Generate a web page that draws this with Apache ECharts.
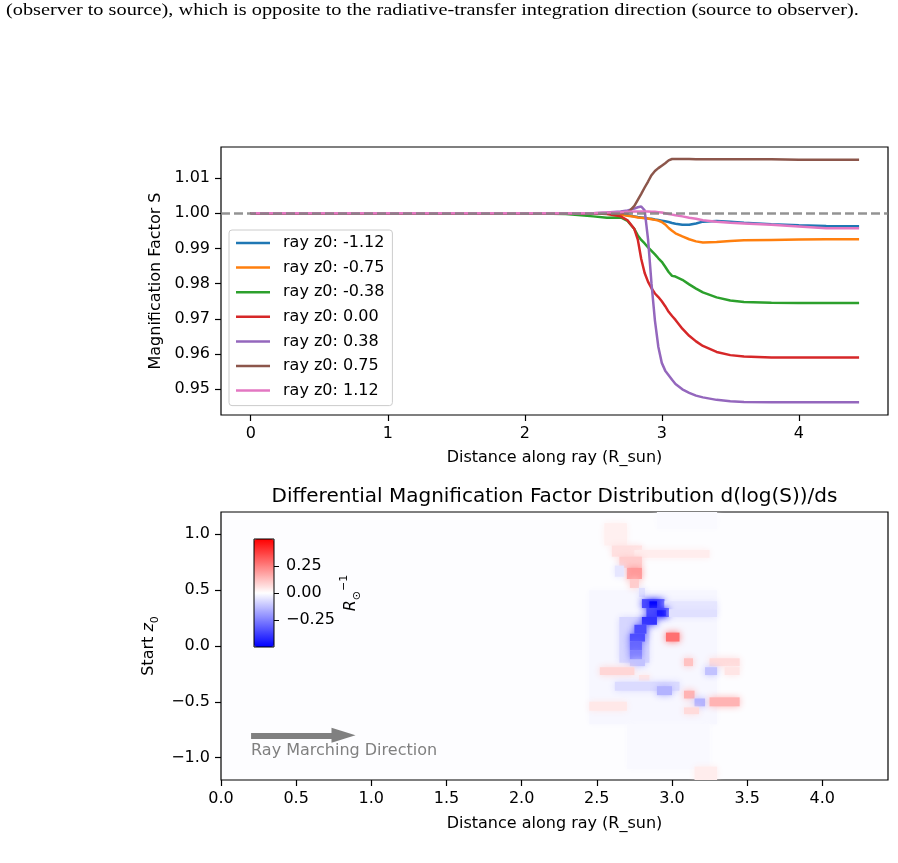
<!DOCTYPE html>
<html>
<head>
<meta charset="utf-8">
<script src="https://cdn.jsdelivr.net/npm/echarts@6/dist/echarts.min.js"></script>
<style>
  html, body { margin: 0; padding: 0; background: #fff; }
  #main { width: 898px; height: 863px; }
</style>
</head>
<body>
<div id="main"></div>
<script>
// distance along ray (R_sun), shared by all rays
var distance = [0, 0.5, 1, 1.5, 2, 2.3, 2.5, 2.6, 2.7, 2.75, 2.8, 2.825, 2.85, 2.875, 2.9, 2.925, 2.95, 2.975,
  3.0, 3.025, 3.05, 3.075, 3.1, 3.15, 3.2, 3.25, 3.3, 3.4, 3.5, 3.6, 3.8, 4.0, 4.2, 4.44];

var rayNames = ['ray z0: -1.12', 'ray z0: -0.75', 'ray z0: -0.38', 'ray z0: 0.00', 'ray z0: 0.38', 'ray z0: 0.75', 'ray z0: 1.12'];
var rayColors = ['#1f77b4', '#ff7f0e', '#2ca02c', '#d62728', '#9467bd', '#8c564b', '#e377c2'];

var sRayM112 = [1, 1, 1, 1, 1, 1, 1, 1, 0.9997, 0.9994, 0.9991, 0.9989, 0.9988, 0.9987, 0.9985, 0.9984, 0.9982, 0.9981,
  0.9979, 0.9977, 0.9975, 0.9972, 0.9970, 0.9967, 0.9967, 0.9971, 0.9976, 0.9978, 0.9976, 0.9973, 0.9969, 0.9966, 0.9964, 0.9963];
var sRayM075 = [1, 1, 1, 1, 1, 1, 1, 1, 0.9996, 0.9993, 0.9990, 0.9988, 0.9987, 0.9986, 0.9985, 0.9983, 0.9981, 0.9979,
  0.9975, 0.9968, 0.9958, 0.9950, 0.9943, 0.9934, 0.9926, 0.9920, 0.9917, 0.9918, 0.9921, 0.9923, 0.9924, 0.9925, 0.9926, 0.9926];
var sRayM038 = [1, 1, 1, 1, 1, 0.9998, 0.9991, 0.9987, 0.9988, 0.9978, 0.9955, 0.9937, 0.9924, 0.9914, 0.9903, 0.9893, 0.9883, 0.9872,
  0.9862, 0.9848, 0.9833, 0.9822, 0.9820, 0.9811, 0.9798, 0.9786, 0.9775, 0.9761, 0.9752, 0.9748, 0.9746, 0.9745, 0.9745, 0.9745];
var sRay000 = [1, 1, 1, 1, 1, 1, 1, 0.9998, 0.9991, 0.9980, 0.9955, 0.9925, 0.9870, 0.9830, 0.9805, 0.9787, 0.9772, 0.9762,
  0.9750, 0.9736, 0.9720, 0.9708, 0.9697, 0.9672, 0.9652, 0.9636, 0.9623, 0.9606, 0.9597, 0.9593, 0.9590, 0.9590, 0.9590, 0.9590];
var sRayP038 = [1, 1, 1, 1, 1, 1, 1, 1.0002, 1.0005, 1.0008, 1.0013, 1.0017, 1.0019, 1.0008, 0.9925, 0.9800, 0.9695, 0.9620,
  0.9575, 0.9553, 0.9540, 0.9527, 0.9515, 0.9500, 0.9490, 0.9482, 0.9477, 0.9470, 0.9466, 0.9464, 0.9463, 0.9463, 0.9463, 0.9463];
var sRayP075 = [1, 1, 1, 1, 1, 1, 1, 1, 1, 1.0000, 1.0021, 1.0038, 1.0055, 1.0073, 1.0090, 1.0108, 1.0120, 1.0128,
  1.0135, 1.0142, 1.0150, 1.0154, 1.0154, 1.0154, 1.0154, 1.0153, 1.0153, 1.0153, 1.0153, 1.0153, 1.0153, 1.0152, 1.0152, 1.0152];
var sRayP112 = [1, 1, 1, 1, 1, 1, 1, 1.0002, 1.0003, 1.0004, 1.0005, 1.0005, 1.0005, 1.0005, 1.0005, 1.0004, 1.0004, 1.0003,
  1.0002, 1.0000, 0.9998, 0.9996, 0.9994, 0.9991, 0.9987, 0.9984, 0.9980, 0.9976, 0.9973, 0.9971, 0.9967, 0.9962, 0.9957, 0.9957];
var raySeries = [sRayM112, sRayM075, sRayM038, sRay000, sRayP038, sRayP075, sRayP112];

// d(log S)/ds read as blocks: [x0, x1, zTop, zBottom, value]
var heatBlocks = [
  [2.45, 3.30, 0.50, -0.70, -0.015],
  [2.70, 3.25, -0.70, -1.10, -0.012],
  [2.90, 3.30, 1.20, 1.05, -0.01],
  [2.55, 2.70, 1.10, 0.90, 0.03],
  [2.60, 2.80, 0.90, 0.80, 0.06],
  [2.75, 3.25, 0.86, 0.79, 0.035],
  [2.65, 2.80, 0.80, 0.70, 0.10],
  [2.70, 2.80, 0.70, 0.60, 0.20],
  [2.72, 2.78, 0.60, 0.52, 0.10],
  [2.62, 2.68, 0.72, 0.62, -0.05],
  [2.78, 2.82, 0.52, 0.44, -0.06],
  [2.65, 2.85, 0.26, -0.15, -0.08],
  [2.80, 2.95, 0.42, 0.34, -0.35],
  [2.85, 2.90, 0.40, 0.34, -0.50],
  [2.95, 3.30, 0.40, 0.33, -0.05],
  [2.83, 2.98, 0.34, 0.26, -0.35],
  [2.90, 2.96, 0.32, 0.27, -0.45],
  [2.98, 3.30, 0.33, 0.26, -0.06],
  [2.80, 2.90, 0.26, 0.19, -0.40],
  [2.75, 2.83, 0.19, 0.11, -0.35],
  [2.72, 2.82, 0.11, 0.04, -0.35],
  [2.96, 3.05, 0.12, 0.04, 0.28],
  [2.72, 2.80, 0.04, -0.04, -0.30],
  [2.72, 2.80, -0.04, -0.12, -0.25],
  [2.72, 2.82, -0.12, -0.18, -0.12],
  [3.08, 3.14, -0.11, -0.18, 0.12],
  [3.25, 3.45, -0.11, -0.18, 0.07],
  [2.52, 2.75, -0.19, -0.26, 0.08],
  [3.22, 3.30, -0.19, -0.26, -0.12],
  [3.35, 3.45, -0.19, -0.26, 0.05],
  [2.78, 2.85, -0.26, -0.31, 0.05],
  [2.62, 3.05, -0.32, -0.40, -0.07],
  [2.90, 3.00, -0.36, -0.44, -0.15],
  [3.08, 3.15, -0.40, -0.47, 0.15],
  [3.15, 3.22, -0.47, -0.54, -0.15],
  [3.25, 3.45, -0.46, -0.54, 0.15],
  [2.45, 2.70, -0.50, -0.58, 0.045],
  [3.08, 3.18, -0.55, -0.61, 0.07],
  [3.15, 3.30, -1.08, -1.20, 0.035]
];

var topXTicks = [0, 1, 2, 3, 4];
var topYTicks = [0.95, 0.96, 0.97, 0.98, 0.99, 1.00, 1.01];
var heatXTicks = [0, 0.5, 1.0, 1.5, 2.0, 2.5, 3.0, 3.5, 4.0];
var heatYTicks = [-1.0, -0.5, 0, 0.5, 1.0];
var cbarTicks = [-0.25, 0, 0.25];

var captionText = '(observer to source), which is opposite to the radiative-transfer integration direction (source to observer).';

function fmt(v, d) {
  var s = Math.abs(v).toFixed(d);
  return v < 0 ? '\u2212' + s : s;
}

var chartDom = document.getElementById('main');
var myChart = echarts.init(chartDom);

var tickStyle = { show: true, inside: false, length: 6, lineStyle: { color: '#000', width: 1.2 } };
var labelStyle = { color: '#000', fontSize: 16, margin: 11 };
var nameStyle = { color: '#000', fontSize: 16 };
var noLine = { show: false, onZero: false };

var series = raySeries.map(function (arr, i) {
  return {
    name: rayNames[i],
    type: 'line',
    xAxisIndex: 0,
    yAxisIndex: 0,
    symbol: 'none',
    showSymbol: false,
    color: rayColors[i],
    lineStyle: { width: 2.5, color: rayColors[i] },
    data: distance.map(function (d, j) { return [d, arr[j]]; }),
    z: 2 + i * 0.01
  };
});
// reference line at S = 1
series[6].markLine = {
  silent: true,
  symbol: 'none',
  label: { show: false },
  lineStyle: { color: 'rgba(128,128,128,0.85)', width: 2.5, type: [9, 4] },
  data: [{ yAxis: 1 }],
  z: 10
};

series.push({
  type: 'custom',
  xAxisIndex: 1,
  yAxisIndex: 1,
  clip: true,
  silent: true,
  encode: { x: [0, 1], y: [2, 3] },
  data: heatBlocks,
  renderItem: function (params, api) {
    var p0 = api.coord([api.value(0), api.value(2)]);
    var p1 = api.coord([api.value(1), api.value(3)]);
    var c = api.visual('color');
    return {
      type: 'rect',
      shape: { x: p0[0], y: p0[1], width: p1[0] - p0[0], height: p1[1] - p0[1] },
      style: { fill: c, shadowBlur: 7, shadowColor: c }
    };
  }
});

series.push({
  type: 'line',
  xAxisIndex: 1,
  yAxisIndex: 1,
  data: [],
  silent: true,
  markLine: {
    silent: true,
    symbol: ['none', 'triangle'],
    symbolSize: [15, 24],
    label: { show: false },
    lineStyle: { color: '#808080', width: 6, type: 'solid' },
    data: [[{ coord: [0.2, -0.8] }, { coord: [0.815, -0.8] }]],
    z: 10
  },
  markPoint: {
    silent: true,
    symbol: 'circle',
    symbolSize: 0,
    label: { show: true, position: 'right', distance: 0, color: '#808080', fontSize: 16, formatter: 'Ray Marching Direction' },
    data: [{ coord: [0.2, -0.94] }]
  }
});

var option = {
  animation: false,
  backgroundColor: '#fff',
  textStyle: { fontFamily: 'DejaVu Sans' },
  title: {
    text: 'Differential Magnification Factor Distribution d(log(S))/ds',
    left: 554.5,
    top: 487,
    textAlign: 'center',
    padding: 0,
    textStyle: { fontSize: 20, fontWeight: 'normal', color: '#000', fontFamily: 'DejaVu Sans' }
  },
  graphic: [{
    type: 'text',
    left: 6,
    top: 1,
    scaleX: 1.16,
    style: { text: captionText, font: '17.5px "Liberation Serif"', fill: '#000' }
  }],
  legend: {
    data: rayNames,
    orient: 'vertical',
    left: 229,
    top: 230,
    padding: [5, 8, 7, 7],
    icon: 'rect',
    itemWidth: 34,
    itemHeight: 2.5,
    itemGap: 8.6,
    borderColor: '#cccccc',
    borderWidth: 1,
    borderRadius: 3,
    backgroundColor: 'rgba(255,255,255,0.8)',
    selectedMode: false,
    textStyle: { fontSize: 16, color: '#000', lineHeight: 16, padding: [0, 0, 0, 8] }
  },
  grid: [
    { left: 221, top: 147, width: 667, height: 268, show: true, borderColor: '#000', borderWidth: 1.2, backgroundColor: 'transparent' },
    { left: 221, top: 512, width: 667, height: 268, show: true, borderColor: '#000', borderWidth: 1.2, backgroundColor: '#fdfdff' },
    { left: 254, top: 539, width: 20, height: 108, show: true, borderColor: '#000', borderWidth: 1, backgroundColor: 'transparent', z: 10 }
  ],
  xAxis: [
    {
      type: 'value', gridIndex: 0, min: -0.217, max: 4.651,
      axisLine: noLine, splitLine: { show: false },
      axisTick: Object.assign({ customValues: topXTicks }, tickStyle),
      axisLabel: Object.assign({ customValues: topXTicks, formatter: function (v) { return fmt(v, 0); } }, labelStyle),
      name: 'Distance along ray (R_sun)', nameLocation: 'middle', nameGap: 35, nameTextStyle: nameStyle
    },
    {
      type: 'value', gridIndex: 1, min: 0, max: 4.437,
      axisLine: noLine, splitLine: { show: false },
      axisTick: Object.assign({ customValues: heatXTicks }, tickStyle),
      axisLabel: Object.assign({ customValues: heatXTicks, formatter: function (v) { return fmt(v, 1); } }, labelStyle),
      name: 'Distance along ray (R_sun)', nameLocation: 'middle', nameGap: 36, nameTextStyle: nameStyle
    },
    { type: 'value', gridIndex: 2, min: 0, max: 1, show: false }
  ],
  yAxis: [
    {
      type: 'value', gridIndex: 0, min: 0.9427, max: 1.0188,
      axisLine: noLine, splitLine: { show: false },
      axisTick: Object.assign({ customValues: topYTicks }, tickStyle),
      axisLabel: Object.assign({ customValues: topYTicks, formatter: function (v) { return fmt(v, 2); } }, labelStyle),
      name: 'Magnification Factor S', nameLocation: 'middle', nameGap: 57, nameTextStyle: nameStyle
    },
    {
      type: 'value', gridIndex: 1, min: -1.2, max: 1.2,
      axisLine: noLine, splitLine: { show: false },
      axisTick: Object.assign({ customValues: heatYTicks }, tickStyle),
      axisLabel: Object.assign({ customValues: heatYTicks, formatter: function (v) { return fmt(v, 1); } }, labelStyle),
      name: 'Start {i|z}{s|0}', nameLocation: 'middle', nameGap: 59,
      nameTextStyle: {
        color: '#000', fontSize: 16, lineHeight: 22,
        rich: {
          i: { fontSize: 16, fontStyle: 'italic', lineHeight: 22 },
          s: { fontSize: 11, lineHeight: 22, verticalAlign: 'bottom' }
        }
      }
    },
    {
      type: 'value', gridIndex: 2, min: -0.5, max: 0.5, position: 'right',
      axisLine: noLine, splitLine: { show: false },
      axisTick: { show: true, customValues: cbarTicks, length: 5, lineStyle: { color: '#000', width: 1 } },
      axisLabel: { customValues: cbarTicks, color: '#000', fontSize: 16, margin: 12, formatter: function (v) { return fmt(v, 2); } },
      name: '{i|R}{b|\u2299}{t|\u22121}', nameLocation: 'middle', nameGap: 50, nameRotate: 90,
      nameTextStyle: {
        color: '#000',
        rich: {
          i: { fontSize: 16, fontStyle: 'italic', lineHeight: 24, verticalAlign: 'middle' },
          b: { fontSize: 11, lineHeight: 24, verticalAlign: 'bottom' },
          t: { fontSize: 11, lineHeight: 24, verticalAlign: 'top' }
        }
      }
    }
  ],
  visualMap: {
    type: 'continuous',
    seriesIndex: 7,
    dimension: 4,
    min: -0.5,
    max: 0.5,
    left: 254,
    top: 539,
    itemWidth: 20,
    itemHeight: 108,
    padding: 0,
    calculable: false,
    hoverLink: false,
    inRange: { color: ['#0000ff', '#ffffff', '#ff0000'] },
    z: 5
  },
  series: series
};

if (chartDom && myChart) {
  myChart.setOption(option);
} else {
  console.error('Failed to initialize the chart');
}
</script>
</body>
</html>
